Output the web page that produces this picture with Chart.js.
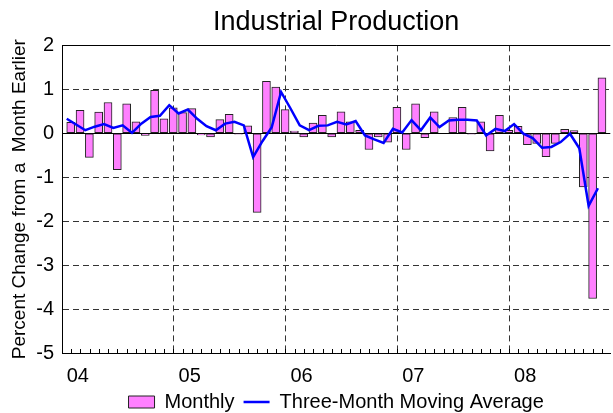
<!DOCTYPE html>
<html>
<head>
<meta charset="utf-8">
<script src="https://cdn.jsdelivr.net/npm/chart.js@4"></script>
<style>
  html, body { margin: 0; padding: 0; background: #fff; overflow: hidden; }
  #chart { display: block; }
</style>
</head>
<body>
<canvas id="chart" width="613" height="413"></canvas>
<script>
// one entry per month, Jan 2004 .. Oct 2008
const months = [
  'Jan 04', 'Feb 04', 'Mar 04', 'Apr 04', 'May 04', 'Jun 04', 'Jul 04', 'Aug 04', 'Sep 04', 'Oct 04', 'Nov 04', 'Dec 04',
  'Jan 05', 'Feb 05', 'Mar 05', 'Apr 05', 'May 05', 'Jun 05', 'Jul 05', 'Aug 05', 'Sep 05', 'Oct 05', 'Nov 05', 'Dec 05',
  'Jan 06', 'Feb 06', 'Mar 06', 'Apr 06', 'May 06', 'Jun 06', 'Jul 06', 'Aug 06', 'Sep 06', 'Oct 06', 'Nov 06', 'Dec 06',
  'Jan 07', 'Feb 07', 'Mar 07', 'Apr 07', 'May 07', 'Jun 07', 'Jul 07', 'Aug 07', 'Sep 07', 'Oct 07', 'Nov 07', 'Dec 07',
  'Jan 08', 'Feb 08', 'Mar 08', 'Apr 08', 'May 08', 'Jun 08', 'Jul 08', 'Aug 08', 'Sep 08', 'Oct 08',
];
const yearLabels = ['04', '05', '06', '07', '08'];

// percent change from a month earlier
const monthly = [
  0.25, 0.52, -0.55, 0.48, 0.70, -0.83, 0.67, 0.26, -0.05, 0.98, 0.33, 0.58,
  0.47, 0.56, -0.04, -0.08, 0.31, 0.43, -0.02, 0.17, -1.80, 1.18, 1.05, 0.54,
  0.05, -0.08, 0.23, 0.41, -0.08, 0.49, 0.26, 0.07, -0.37, -0.08, -0.20, 0.59,
  -0.37, 0.67, -0.10, 0.49, 0.00, 0.36, 0.59, -0.02, 0.26, -0.40, 0.41, 0.07,
  0.16, -0.26, -0.23, -0.53, -0.23, 0.09, 0.06, -1.22, -3.76, 1.26,
];

const movingAvg = [
  0.33, 0.20, 0.07, 0.15, 0.21, 0.12, 0.18, 0.01, 0.22, 0.37, 0.40, 0.64,
  0.45, 0.54, 0.33, 0.16, 0.07, 0.22, 0.26, 0.18, -0.54, -0.18, 0.14, 0.94,
  0.57, 0.18, 0.07, 0.17, 0.18, 0.26, 0.20, 0.28, -0.05, -0.14, -0.22, 0.10,
  0.02, 0.30, 0.07, 0.36, 0.14, 0.29, 0.31, 0.31, 0.29, -0.05, 0.10, 0.05,
  0.21, -0.01, -0.11, -0.33, -0.31, -0.20, -0.01, -0.34, -1.65, -1.25,
];

Chart.defaults.font.family = "'Liberation Sans', Arial, sans-serif";
Chart.defaults.color = '#000';

// solid zero line and top frame, the grid lines are dashed
const framePlugin = {
  id: 'frame',
  beforeDatasetsDraw(chart) {
    const { ctx, chartArea, scales } = chart;
    const y0 = Math.round(scales.y.getPixelForValue(0)) + 0.5;
    const top = Math.round(chartArea.top) + 0.5;
    ctx.save();
    ctx.strokeStyle = '#000';
    ctx.lineWidth = 1;
    ctx.beginPath();
    ctx.moveTo(chartArea.left, y0);
    ctx.lineTo(chartArea.right, y0);
    ctx.moveTo(chartArea.left, top);
    ctx.lineTo(chartArea.right, top);
    ctx.stroke();
    ctx.restore();
  },
};

new Chart(document.getElementById('chart'), {
  type: 'bar',
  data: {
    datasets: [
      {
        label: 'Monthly',
        data: monthly.map((v, i) => ({ x: i + 0.43, y: v })),
        backgroundColor: '#ff80ff',
        borderColor: '#222',
        borderWidth: 1,
        borderSkipped: false,
        barThickness: 8,
        pointStyle: 'rect',
        order: 1,
      },
      {
        type: 'line',
        label: 'Three-Month Moving Average',
        data: movingAvg.map((v, i) => ({ x: i, y: v })),
        borderColor: '#0000ff',
        borderWidth: 2.5,
        pointRadius: 0,
        pointBorderWidth: 2.5,
        pointStyle: 'line',
        tension: 0,
        order: 0,
      },
    ],
  },
  options: {
    responsive: false,
    animation: false,
    devicePixelRatio: 1,
    layout: { padding: 0 },
    plugins: {
      title: {
        display: true,
        text: 'Industrial Production',
        fullSize: false,
        font: { size: 27, weight: 'normal' },
        padding: { top: 6, bottom: 7 },
      },
      legend: {
        position: 'bottom',
        fullSize: false,
        maxHeight: 30,
        labels: {
          usePointStyle: true,
          pointStyleWidth: 26,
          boxHeight: 12,
          padding: 9,
          font: { size: 20 },
          sort: (a, b) => a.datasetIndex - b.datasetIndex,
        },
      },
      tooltip: { enabled: false },
    },
    scales: {
      x: {
        type: 'linear',
        min: 0,
        max: 57.82,
        afterBuildTicks: (scale) => {
          scale.ticks = months.map((m, i) => ({ value: i }));
        },
        afterFit: (scale) => {
          scale.height = 30;
        },
        ticks: {
          autoSkip: false,
          maxRotation: 0,
          align: 'start',
          padding: 15,
          font: { size: 20 },
          callback: (v) => (v % 12 === 0 ? yearLabels[v / 12] : ''),
        },
        grid: {
          color: (c) => (c.tick && c.tick.value % 12 === 0 && c.tick.value !== 0 ? '#333' : 'rgba(0,0,0,0)'),
          tickColor: '#000',
          tickLength: -4,
        },
        border: { display: true, color: '#000', width: 1, dash: [6, 4] },
      },
      y: {
        min: -5,
        max: 2,
        afterFit: (scale) => {
          scale.width = 62;
        },
        ticks: { stepSize: 1, padding: 8, font: { size: 20 } },
        grid: {
          drawTicks: false,
          color: (c) => (c.tick && (c.tick.value === 0 || c.tick.value === 2) ? 'rgba(0,0,0,0)' : '#333'),
        },
        border: { display: true, color: '#000', width: 1, dash: [6, 4] },
        title: {
          display: true,
          text: 'Percent Change from a  Month Earlier',
          font: { size: 19 },
          padding: { top: 8, bottom: 0 },
        },
      },
    },
  },
  plugins: [framePlugin],
});
</script>
</body>
</html>
